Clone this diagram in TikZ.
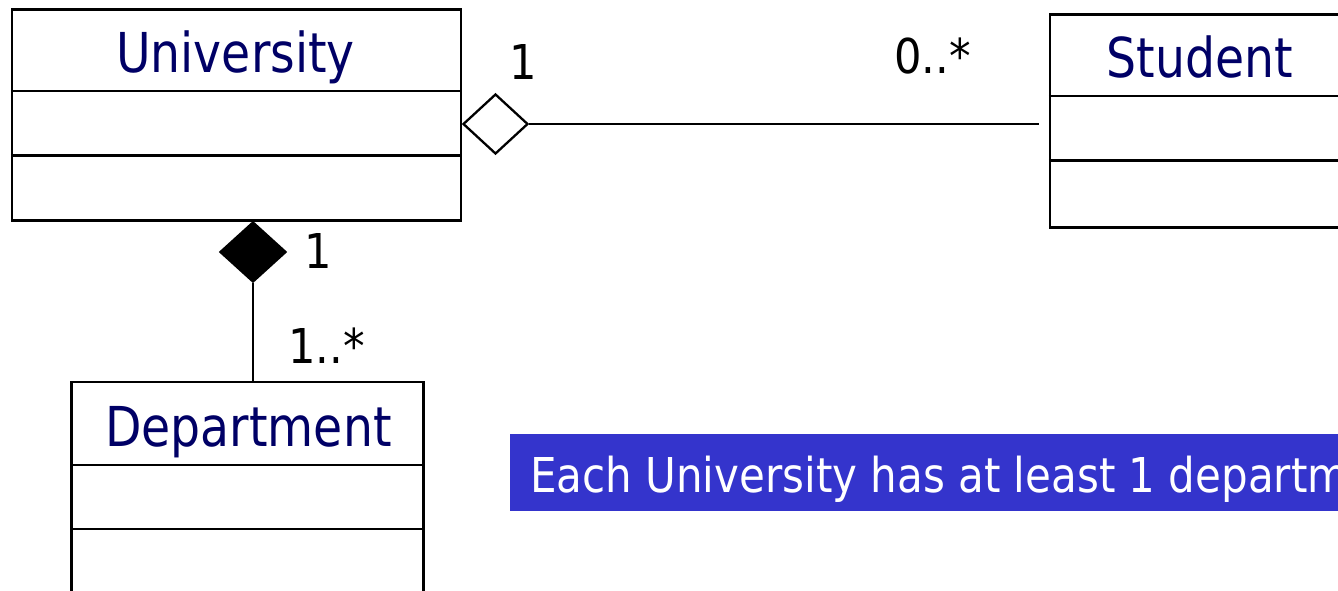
\documentclass[tikz,border=0pt]{standalone}
\usepackage{fontspec}
\setmainfont[FakeStretch=0.86]{DejaVu Sans}
\newfontfamily\widefont[FakeStretch=0.9]{DejaVu Sans}
\newfontfamily\notefont[FakeStretch=0.875]{DejaVu Sans}
\usetikzlibrary{shapes.geometric}
\definecolor{classname}{RGB}{0,0,102}
\definecolor{notefill}{RGB}{52,52,204}
\begin{document}
\begin{tikzpicture}[x=1pt,y=-1pt,line width=2.3pt,
  classbox/.style={draw,line width=2.3pt,inner sep=0pt,fill=white},
  classtitle/.style={anchor=base,inner sep=0pt,text=classname,font=\fontsize{55}{60}\selectfont},
  mult/.style={anchor=base west,inner sep=0pt,font=\widefont\fontsize{48}{52}\selectfont},
  aggdiamond/.style={diamond,draw,line width=2.3pt,fill=white,inner sep=0pt,
    minimum width=65pt,minimum height=60pt},
  compdiamond/.style={diamond,draw,line width=2.3pt,fill=black,inner sep=0pt,
    minimum width=66pt,minimum height=60pt},
  notebox/.style={fill=notefill,text=white,anchor=base west,inner xsep=20pt,inner ysep=0pt,
    text height=58pt,text depth=19pt,font=\notefont\fontsize{48}{52}\selectfont}]
\useasboundingbox (0,0) rectangle (1338,591);

% University class
\node[classbox,minimum width=449pt,minimum height=211pt] (univ) at (236.5,115) {};
\draw ([yshift=-83pt]univ.north west) -- ([yshift=-83pt]univ.north east);
\draw ([yshift=-147pt]univ.north west) -- ([yshift=-147pt]univ.north east);
\node[classtitle] (univname) at (235.5,73) {University};

% Student class
\node[classbox,minimum width=300pt,minimum height=213pt] (stud) at (1200,121) {};
\draw ([yshift=-83pt]stud.north west) -- ([yshift=-83pt]stud.north east);
\draw ([yshift=-147pt]stud.north west) -- ([yshift=-147pt]stud.north east);
\node[classtitle] (studname) at (1200,78) {Student};

% Department class
\node[classbox,minimum width=352pt,minimum height=300pt] (dept) at (247.5,532) {};
\draw ([yshift=-84pt]dept.north west) -- ([yshift=-84pt]dept.north east);
\draw ([yshift=-148pt]dept.north west) -- ([yshift=-148pt]dept.north east);
\node[classtitle] (deptname) at (248.5,446) {Department};

% Aggregation: University -- Student
\node[aggdiamond] (agg) at (495.5,124) {};
\draw (agg.east) -- ([xshift=-10pt]stud.west |- agg.east);
\node[mult] (m1) at (508,80) {1};
\node[mult] (m2) at (893,74) {0..*};

% Composition: University -- Department
\node[compdiamond] (comp) at (253,252) {};
\draw (comp.south) -- (comp.south |- dept.north);
\node[mult] (m3) at (303,268) {1};
\node[mult] (m4) at (287,363) {1..*};

% Note
\node[notebox] (note) at (509,492) {Each University has at least 1 department};
\end{tikzpicture}
\end{document}
